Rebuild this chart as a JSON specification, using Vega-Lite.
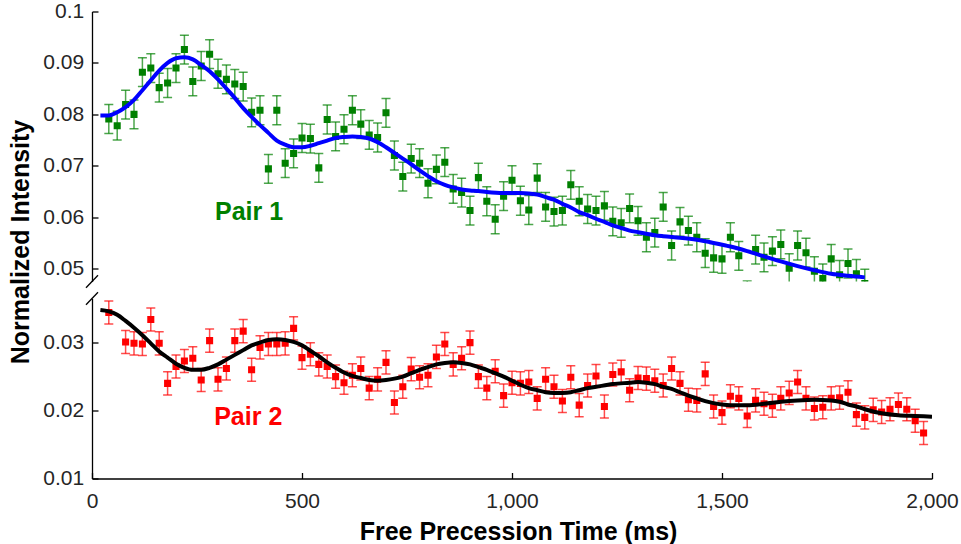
{
  "$schema": "https://vega.github.io/schema/vega-lite/v6.json",
  "background": "white",
  "padding": {"left": 8, "top": 0.5, "right": 0, "bottom": 6},
  "bounds": "flush",
  "spacing": 17,
  "config": {
    "view": {"stroke": null},
    "font": "Liberation Sans",
    "axis": {
      "labelFont": "Liberation Sans", "labelFontSize": 21, "labelColor": "#262626",
      "titleFont": "Liberation Sans", "titleFontSize": 25, "titleFontWeight": "bold", "titleColor": "#000000",
      "domainColor": "#000000", "tickColor": "#000000", "domainWidth": 1.3, "tickWidth": 1.3,
      "grid": false, "tickSize": -6
    }
  },
  "datasets": {
    "p1": [
      {"t":40,"v":0.0791,"e":0.0028},{"t":60,"v":0.0778,"e":0.0028},{"t":80,"v":0.0819,"e":0.0028},{"t":100,"v":0.0800,"e":0.0028},
      {"t":120,"v":0.0882,"e":0.0028},{"t":140,"v":0.0890,"e":0.0028},{"t":160,"v":0.0852,"e":0.0028},{"t":180,"v":0.0861,"e":0.0028},
      {"t":200,"v":0.0890,"e":0.0028},{"t":220,"v":0.0926,"e":0.0028},{"t":240,"v":0.0864,"e":0.0028},{"t":260,"v":0.0894,"e":0.0028},
      {"t":280,"v":0.0917,"e":0.0028},{"t":300,"v":0.0879,"e":0.0028},{"t":320,"v":0.0868,"e":0.0028},{"t":340,"v":0.0859,"e":0.0028},
      {"t":360,"v":0.0854,"e":0.0028},{"t":380,"v":0.0804,"e":0.0028},{"t":400,"v":0.0808,"e":0.0028},{"t":420,"v":0.0694,"e":0.0028},
      {"t":440,"v":0.0808,"e":0.0028},{"t":460,"v":0.0705,"e":0.0028},{"t":480,"v":0.0724,"e":0.0028},{"t":500,"v":0.0754,"e":0.0028},
      {"t":520,"v":0.0753,"e":0.0028},{"t":540,"v":0.0696,"e":0.0028},{"t":560,"v":0.0790,"e":0.0028},{"t":580,"v":0.0757,"e":0.0028},
      {"t":600,"v":0.0771,"e":0.0028},{"t":620,"v":0.0808,"e":0.0028},{"t":640,"v":0.0781,"e":0.0028},{"t":660,"v":0.0760,"e":0.0028},
      {"t":680,"v":0.0755,"e":0.0028},{"t":700,"v":0.0803,"e":0.0028},{"t":720,"v":0.0720,"e":0.0028},{"t":740,"v":0.0679,"e":0.0028},
      {"t":760,"v":0.0714,"e":0.0028},{"t":780,"v":0.0705,"e":0.0028},{"t":800,"v":0.0666,"e":0.0028},{"t":820,"v":0.0693,"e":0.0028},
      {"t":840,"v":0.0707,"e":0.0028},{"t":860,"v":0.0655,"e":0.0028},{"t":880,"v":0.0648,"e":0.0028},{"t":900,"v":0.0613,"e":0.0028},
      {"t":920,"v":0.0677,"e":0.0028},{"t":940,"v":0.0631,"e":0.0028},{"t":960,"v":0.0596,"e":0.0028},{"t":980,"v":0.0641,"e":0.0028},
      {"t":1000,"v":0.0672,"e":0.0028},{"t":1020,"v":0.0632,"e":0.0028},{"t":1040,"v":0.0614,"e":0.0028},{"t":1060,"v":0.0676,"e":0.0028},
      {"t":1080,"v":0.0620,"e":0.0028},{"t":1100,"v":0.0611,"e":0.0028},{"t":1120,"v":0.0613,"e":0.0028},{"t":1140,"v":0.0663,"e":0.0028},
      {"t":1160,"v":0.0631,"e":0.0028},{"t":1180,"v":0.0616,"e":0.0028},{"t":1200,"v":0.0613,"e":0.0028},{"t":1220,"v":0.0622,"e":0.0028},
      {"t":1240,"v":0.0592,"e":0.0028},{"t":1260,"v":0.0589,"e":0.0028},{"t":1280,"v":0.0617,"e":0.0028},{"t":1300,"v":0.0593,"e":0.0028},
      {"t":1320,"v":0.0561,"e":0.0028},{"t":1340,"v":0.0570,"e":0.0028},{"t":1360,"v":0.0620,"e":0.0028},{"t":1380,"v":0.0545,"e":0.0028},
      {"t":1400,"v":0.0591,"e":0.0028},{"t":1420,"v":0.0574,"e":0.0028},{"t":1440,"v":0.0561,"e":0.0028},{"t":1460,"v":0.0530,"e":0.0028},
      {"t":1480,"v":0.0521,"e":0.0028},{"t":1500,"v":0.0519,"e":0.0028},{"t":1520,"v":0.0561,"e":0.0028},{"t":1540,"v":0.0525,"e":0.0028},
      {"t":1560,"v":0.0448,"e":0.0028},{"t":1580,"v":0.0537,"e":0.0028},{"t":1600,"v":0.0522,"e":0.0028},{"t":1620,"v":0.0534,"e":0.0028},
      {"t":1640,"v":0.0547,"e":0.0028},{"t":1660,"v":0.0501,"e":0.0028},{"t":1680,"v":0.0545,"e":0.0028},{"t":1700,"v":0.0531,"e":0.0028},
      {"t":1720,"v":0.0495,"e":0.0028},{"t":1740,"v":0.0481,"e":0.0028},{"t":1760,"v":0.0519,"e":0.0028},{"t":1780,"v":0.0488,"e":0.0028},
      {"t":1800,"v":0.0510,"e":0.0028},{"t":1820,"v":0.0490,"e":0.0028},{"t":1840,"v":0.0471,"e":0.0028}
    ],
    "p2": [
      {"t":40,"v":0.03445,"e":0.0017},{"t":80,"v":0.0301,"e":0.0017},{"t":100,"v":0.0299,"e":0.0017},{"t":120,"v":0.0298,"e":0.0017},
      {"t":140,"v":0.0334,"e":0.0017},{"t":160,"v":0.0299,"e":0.0017},{"t":180,"v":0.0240,"e":0.0017},{"t":200,"v":0.0265,"e":0.0017},
      {"t":220,"v":0.0273,"e":0.0017},{"t":240,"v":0.0277,"e":0.0017},{"t":260,"v":0.0245,"e":0.0017},{"t":280,"v":0.0303,"e":0.0017},
      {"t":300,"v":0.0246,"e":0.0017},{"t":320,"v":0.0262,"e":0.0017},{"t":340,"v":0.0303,"e":0.0017},{"t":360,"v":0.0317,"e":0.0017},
      {"t":380,"v":0.0260,"e":0.0017},{"t":400,"v":0.0293,"e":0.0017},{"t":420,"v":0.0298,"e":0.0017},{"t":440,"v":0.0298,"e":0.0017},
      {"t":460,"v":0.0299,"e":0.0017},{"t":480,"v":0.0321,"e":0.0017},{"t":500,"v":0.0278,"e":0.0017},{"t":520,"v":0.0283,"e":0.0017},
      {"t":540,"v":0.0268,"e":0.0017},{"t":560,"v":0.0265,"e":0.0017},{"t":580,"v":0.0250,"e":0.0017},{"t":600,"v":0.0241,"e":0.0017},
      {"t":620,"v":0.0252,"e":0.0017},{"t":640,"v":0.0262,"e":0.0017},{"t":660,"v":0.0233,"e":0.0017},{"t":680,"v":0.0246,"e":0.0017},
      {"t":700,"v":0.0271,"e":0.0017},{"t":720,"v":0.0212,"e":0.0017},{"t":740,"v":0.0235,"e":0.0017},{"t":760,"v":0.0261,"e":0.0017},
      {"t":780,"v":0.0249,"e":0.0017},{"t":800,"v":0.0252,"e":0.0017},{"t":820,"v":0.0279,"e":0.0017},{"t":840,"v":0.0298,"e":0.0017},
      {"t":860,"v":0.0268,"e":0.0017},{"t":880,"v":0.0277,"e":0.0017},{"t":900,"v":0.0300,"e":0.0017},{"t":920,"v":0.0250,"e":0.0017},
      {"t":940,"v":0.0233,"e":0.0017},{"t":960,"v":0.0258,"e":0.0017},{"t":980,"v":0.0222,"e":0.0017},{"t":1000,"v":0.0241,"e":0.0017},
      {"t":1020,"v":0.0240,"e":0.0017},{"t":1040,"v":0.0242,"e":0.0017},{"t":1060,"v":0.0218,"e":0.0017},{"t":1080,"v":0.0246,"e":0.0017},
      {"t":1100,"v":0.0235,"e":0.0017},{"t":1120,"v":0.0214,"e":0.0017},{"t":1140,"v":0.0249,"e":0.0017},{"t":1160,"v":0.0208,"e":0.0017},
      {"t":1180,"v":0.0237,"e":0.0017},{"t":1200,"v":0.0251,"e":0.0017},{"t":1220,"v":0.0206,"e":0.0017},{"t":1240,"v":0.0253,"e":0.0017},
      {"t":1260,"v":0.0257,"e":0.0017},{"t":1280,"v":0.0230,"e":0.0017},{"t":1300,"v":0.0248,"e":0.0017},{"t":1320,"v":0.0247,"e":0.0017},
      {"t":1340,"v":0.0244,"e":0.0017},{"t":1360,"v":0.0237,"e":0.0017},{"t":1380,"v":0.0262,"e":0.0017},{"t":1400,"v":0.0240,"e":0.0017},
      {"t":1420,"v":0.0216,"e":0.0017},{"t":1440,"v":0.0215,"e":0.0017},{"t":1460,"v":0.0254,"e":0.0017},{"t":1480,"v":0.0206,"e":0.0017},
      {"t":1500,"v":0.0197,"e":0.0017},{"t":1520,"v":0.0221,"e":0.0017},{"t":1540,"v":0.0218,"e":0.0017},{"t":1560,"v":0.0192,"e":0.0017},
      {"t":1580,"v":0.0215,"e":0.0017},{"t":1600,"v":0.0210,"e":0.0017},{"t":1620,"v":0.0207,"e":0.0017},{"t":1640,"v":0.0218,"e":0.0017},
      {"t":1660,"v":0.0226,"e":0.0017},{"t":1680,"v":0.0242,"e":0.0017},{"t":1700,"v":0.0218,"e":0.0017},{"t":1720,"v":0.0203,"e":0.0017},
      {"t":1740,"v":0.0205,"e":0.0017},{"t":1760,"v":0.0218,"e":0.0017},{"t":1780,"v":0.0219,"e":0.0017},{"t":1800,"v":0.0227,"e":0.0017},
      {"t":1820,"v":0.0194,"e":0.0017},{"t":1840,"v":0.0190,"e":0.0017},{"t":1860,"v":0.0201,"e":0.0017},{"t":1880,"v":0.0198,"e":0.0017},
      {"t":1900,"v":0.0202,"e":0.0017},{"t":1920,"v":0.0209,"e":0.0017},{"t":1940,"v":0.0202,"e":0.0017},{"t":1960,"v":0.0185,"e":0.0017},
      {"t":1980,"v":0.0167,"e":0.0017}
    ],
    "f1": [
      {"t":20,"v":0.0798},{"t":40,"v":0.0798},{"t":60,"v":0.0804},{"t":80,"v":0.0814},{"t":100,"v":0.0828},{"t":120,"v":0.0847},
      {"t":140,"v":0.0866},{"t":160,"v":0.0885},{"t":180,"v":0.0900},{"t":200,"v":0.0909},{"t":220,"v":0.0911},{"t":240,"v":0.0907},
      {"t":260,"v":0.0896},{"t":280,"v":0.0884},{"t":300,"v":0.0868},{"t":320,"v":0.0850},{"t":340,"v":0.0832},{"t":360,"v":0.0812},
      {"t":380,"v":0.0795},{"t":400,"v":0.0779},{"t":420,"v":0.0764},{"t":440,"v":0.0749},{"t":460,"v":0.0741},{"t":480,"v":0.0736},
      {"t":500,"v":0.0736},{"t":520,"v":0.0739},{"t":540,"v":0.0744},{"t":560,"v":0.0749},{"t":580,"v":0.0754},{"t":600,"v":0.0756},
      {"t":620,"v":0.0757},{"t":640,"v":0.0756},{"t":660,"v":0.0753},{"t":680,"v":0.0746},{"t":700,"v":0.0736},{"t":720,"v":0.0725},
      {"t":740,"v":0.0714},{"t":760,"v":0.0703},{"t":780,"v":0.0691},{"t":800,"v":0.0680},{"t":820,"v":0.0670},{"t":840,"v":0.0663},
      {"t":860,"v":0.0658},{"t":880,"v":0.0654},{"t":900,"v":0.0652},{"t":920,"v":0.0651},{"t":940,"v":0.0649},{"t":980,"v":0.0647},
      {"t":1020,"v":0.0647},{"t":1060,"v":0.0644},{"t":1080,"v":0.0639},{"t":1100,"v":0.0634},{"t":1120,"v":0.0626},{"t":1140,"v":0.0619},
      {"t":1160,"v":0.0610},{"t":1180,"v":0.0604},{"t":1200,"v":0.0597},{"t":1220,"v":0.0591},{"t":1240,"v":0.0584},{"t":1260,"v":0.0579},
      {"t":1280,"v":0.0574},{"t":1300,"v":0.0571},{"t":1320,"v":0.0568},{"t":1340,"v":0.0565},{"t":1360,"v":0.0563},{"t":1400,"v":0.0560},
      {"t":1440,"v":0.0556},{"t":1480,"v":0.0550},{"t":1520,"v":0.0543},{"t":1560,"v":0.0534},{"t":1600,"v":0.0524},{"t":1640,"v":0.0514},
      {"t":1680,"v":0.0505},{"t":1720,"v":0.0497},{"t":1760,"v":0.0490},{"t":1800,"v":0.0486},{"t":1840,"v":0.0483}
    ],
    "f2": [
      {"t":20,"v":0.0348},{"t":40,"v":0.0346},{"t":60,"v":0.0341},{"t":80,"v":0.0332},{"t":100,"v":0.0322},{"t":120,"v":0.0311},
      {"t":140,"v":0.0299},{"t":160,"v":0.0287},{"t":180,"v":0.0278},{"t":200,"v":0.0269},{"t":220,"v":0.0263},{"t":240,"v":0.0260},
      {"t":260,"v":0.0260},{"t":280,"v":0.0263},{"t":300,"v":0.0268},{"t":320,"v":0.0275},{"t":340,"v":0.0282},{"t":360,"v":0.0289},
      {"t":380,"v":0.0296},{"t":400,"v":0.0300},{"t":420,"v":0.0304},{"t":440,"v":0.0305},{"t":460,"v":0.0304},{"t":480,"v":0.0301},
      {"t":500,"v":0.0296},{"t":520,"v":0.0288},{"t":540,"v":0.0280},{"t":560,"v":0.0271},{"t":580,"v":0.0263},{"t":600,"v":0.0256},
      {"t":620,"v":0.0251},{"t":640,"v":0.0248},{"t":660,"v":0.0245},{"t":680,"v":0.0244},{"t":700,"v":0.0245},{"t":720,"v":0.0247},
      {"t":740,"v":0.0250},{"t":760,"v":0.0255},{"t":780,"v":0.0260},{"t":800,"v":0.0264},{"t":820,"v":0.0268},{"t":840,"v":0.0270},
      {"t":860,"v":0.0271},{"t":880,"v":0.0270},{"t":900,"v":0.0268},{"t":920,"v":0.0264},{"t":940,"v":0.0260},{"t":960,"v":0.0255},
      {"t":980,"v":0.0250},{"t":1000,"v":0.0244},{"t":1020,"v":0.0238},{"t":1040,"v":0.0233},{"t":1060,"v":0.0230},{"t":1080,"v":0.0227},
      {"t":1100,"v":0.0226},{"t":1120,"v":0.0226},{"t":1140,"v":0.0227},{"t":1160,"v":0.0230},{"t":1180,"v":0.0233},{"t":1200,"v":0.0235},
      {"t":1240,"v":0.0239},{"t":1280,"v":0.0241},{"t":1300,"v":0.0242},{"t":1320,"v":0.0241},{"t":1340,"v":0.0239},{"t":1360,"v":0.0235},
      {"t":1380,"v":0.0232},{"t":1400,"v":0.0227},{"t":1420,"v":0.0222},{"t":1440,"v":0.0218},{"t":1460,"v":0.0214},{"t":1480,"v":0.0211},
      {"t":1500,"v":0.0209},{"t":1520,"v":0.0208},{"t":1560,"v":0.0208},{"t":1600,"v":0.0210},{"t":1640,"v":0.0213},{"t":1680,"v":0.0215},
      {"t":1720,"v":0.0216},{"t":1760,"v":0.0215},{"t":1780,"v":0.0213},{"t":1800,"v":0.0209},{"t":1820,"v":0.0206},{"t":1840,"v":0.0202},
      {"t":1880,"v":0.0196},{"t":1920,"v":0.0193},{"t":1960,"v":0.0192},{"t":2000,"v":0.0191}
    ],
    "lab1": [{"t":374,"v":0.0611,"label":"Pair 1"}],
    "lab2": [{"t":372,"v":0.01912,"label":"Pair 2"}],
    "brk1": [{"t":0,"v":0.0475}],
    "brk2": [{"t":0,"v":0.0365}]
  },
  "vconcat": [
    {
      "width": 840,
      "height": 270,
      "encoding": {
        "x": {"field": "t", "type": "quantitative", "scale": {"domain": [0, 2000], "nice": false}, "axis": null},
        "y": {
          "field": "v", "type": "quantitative", "title": "Normalized Intensity",
          "scale": {"domain": [0.0475, 0.1], "nice": false, "zero": false},
          "axis": {"values": [0.05, 0.06, 0.07, 0.08, 0.09, 0.1], "format": ".2~f", "labelPadding": 14.3, "titlePadding": 9, "titleY": 230, "labelFlush": false}
        }
      },
      "layer": [
        {
          "data": {"name": "p1"},
          "mark": {"type": "errorbar", "color": "#008000", "opacity": 0.7, "thickness": 1.5, "ticks": {"size": 9, "thickness": 1.5}, "clip": true},
          "encoding": {"yError": {"field": "e"}}
        },
        {
          "data": {"name": "p1"},
          "mark": {"type": "point", "shape": "square", "filled": true, "size": 50, "color": "#008000", "opacity": 1, "clip": true}
        },
        {
          "data": {"name": "f1"},
          "mark": {"type": "line", "color": "#0000ff", "strokeWidth": 4, "interpolate": "monotone", "clip": true}
        },
        {
          "data": {"name": "lab1"},
          "mark": {"type": "text", "font": "Liberation Sans", "fontSize": 25, "fontWeight": "bold", "color": "#008000", "align": "center", "baseline": "middle"},
          "encoding": {"text": {"field": "label"}}
        },
        {
          "data": {"name": "brk1"},
          "mark": {"type": "point", "shape": "M-1,1.05L1,-1.05", "size": 144, "filled": false, "stroke": "#000000", "strokeWidth": 1.3, "opacity": 1, "clip": false}
        }
      ]
    },
    {
      "width": 840,
      "height": 180,
      "encoding": {
        "x": {
          "field": "t", "type": "quantitative", "title": "Free Precession Time (ms)",
          "scale": {"domain": [0, 2000], "nice": false},
          "axis": {"values": [0, 500, 1000, 1500, 2000], "format": ",.0f", "labelFlush": false, "labelPadding": 18, "titlePadding": 8, "titleX": 426}
        },
        "y": {
          "field": "v", "type": "quantitative",
          "scale": {"domain": [0.01, 0.0365], "nice": false, "zero": false},
          "axis": {"values": [0.01, 0.02, 0.03], "format": ".2~f", "labelPadding": 14.3, "title": null, "labelFlush": false}
        }
      },
      "layer": [
        {
          "data": {"name": "p2"},
          "mark": {"type": "errorbar", "color": "#ff0000", "opacity": 0.7, "thickness": 1.5, "ticks": {"size": 9, "thickness": 1.5}, "clip": true},
          "encoding": {"yError": {"field": "e"}}
        },
        {
          "data": {"name": "p2"},
          "mark": {"type": "point", "shape": "square", "filled": true, "size": 50, "color": "#ff0000", "opacity": 1, "clip": true}
        },
        {
          "data": {"name": "f2"},
          "mark": {"type": "line", "color": "#000000", "strokeWidth": 4, "interpolate": "monotone", "clip": true}
        },
        {
          "data": {"name": "lab2"},
          "mark": {"type": "text", "font": "Liberation Sans", "fontSize": 25, "fontWeight": "bold", "color": "#ff0000", "align": "center", "baseline": "middle"},
          "encoding": {"text": {"field": "label"}}
        },
        {
          "data": {"name": "brk2"},
          "mark": {"type": "point", "shape": "M-1,1.05L1,-1.05", "size": 144, "filled": false, "stroke": "#000000", "strokeWidth": 1.3, "opacity": 1, "clip": false}
        }
      ]
    }
  ]
}
